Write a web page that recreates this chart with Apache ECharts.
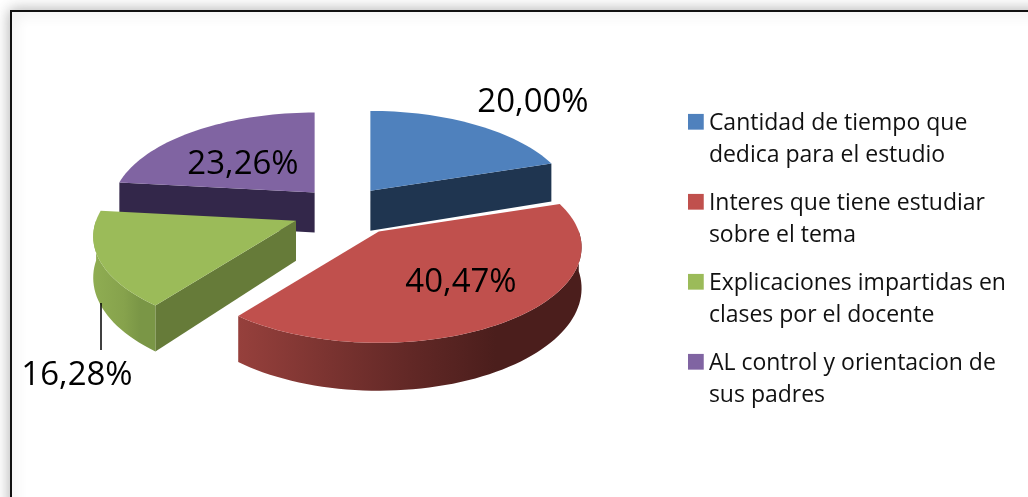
<!DOCTYPE html>
<html>
<head>
<meta charset="utf-8">
<style>
html, body { margin: 0; padding: 0; background: #fff; }
#chart { width: 1028px; height: 497px; }
</style>
<script src="https://cdn.jsdelivr.net/npm/echarts@6/dist/echarts.min.js"></script>
</head>
<body>
<div id="chart"></div>
<script>
const categories = [
    'Cantidad de tiempo que\ndedica para el estudio',
    'Interes que tiene estudiar\nsobre el tema',
    'Explicaciones impartidas en\nclases por el docente',
    'AL control y orientacion de\nsus padres'
]
const values = [20.00, 40.47, 16.28, 23.26]

const colors = ['#4F81BD', '#C0504D', '#9BBB59', '#8064A2']
// cut faces of each slice
const wallColors = ['#1F3550', '#7a2f2c', '#667B39', '#33274A']
// outer rim, left to right
const rimColors = [
    ['#3b6290', '#2c4a70', '#1F3550'],
    ['#96403c', '#622826', '#4b1e1c'],
    ['#8fad52', '#86a24c', '#7a9646'],
    ['#6d5590', '#5a4678', '#4a3a66']
]
// label centres
const labelPos = [[533, 103], [461, 283], [77, 376], [243, 165]]
// small sideways correction per slice
const sliceNudge = [-4, 5, -3, 3]
// painted back to front
const drawOrder = [3, 0, 2, 1]

const chart = echarts.init(document.getElementById('chart'))

// pie projection
const cx = 345, cy = 211
const R = 200, RA = 93, K = 0.165, DEPTH = 40
const EX = 50, EY = 25

function total() {
    return values.reduce((a, b) => a + b, 0)
}

function sliceAngles(idx) {
    let sum = 0
    for (let i = 0; i < idx; i++) sum += values[i]
    const t = total()
    return [sum / t * Math.PI * 2, (sum + values[idx]) / t * Math.PI * 2]
}

function project(ax, ay, ang, r, down) {
    const u = Math.sin(ang) * r
    const v = -Math.cos(ang) * r
    const s = 1 / (1 - K * v)
    return [ax + R * u * s, ay + RA * v * s + (down ? DEPTH * s : 0)]
}

// a cut face shows only when the slice top lies above its edge
function wallVisible(apex, rim, inner) {
    const ex = rim[0] - apex[0], ey = rim[1] - apex[1]
    const ix = inner[0] - apex[0], iy = inner[1] - apex[1]
    if (Math.abs(ex) < 1) return false
    return (ex * iy - ey * ix) * ex < 0
}

function renderSlice(idx) {
    const [a0, a1] = sliceAngles(idx)
    const mid = (a0 + a1) / 2
    const ax = cx + EX * Math.sin(mid) + sliceNudge[idx]
    const ay = cy - EY * Math.cos(mid)
    const steps = Math.max(6, Math.round((a1 - a0) / (Math.PI / 90)))

    const rimTop = [], frontTop = [], frontBottom = []
    for (let i = 0; i <= steps; i++) {
        const a = a0 + (a1 - a0) * i / steps
        rimTop.push(project(ax, ay, a, 1, false))
        // only the front half of the rim can be seen
        if (Math.cos(a) <= 0.02) {
            frontTop.push(project(ax, ay, a, 1, false))
            frontBottom.push(project(ax, ay, a, 1, true))
        }
    }
    const apexTop = project(ax, ay, 0, 0, false)
    const apexBottom = project(ax, ay, 0, 0, true)
    const inner = project(ax, ay, mid, 0.6, false)

    const children = []
    ;[a0, a1].forEach(function (a) {
        const top = project(ax, ay, a, 1, false)
        if (wallVisible(apexTop, top, inner)) {
            children.push({
                type: 'polygon',
                shape: { points: [apexTop, top, project(ax, ay, a, 1, true), apexBottom] },
                style: { fill: wallColors[idx] }
            })
        }
    })
    if (frontTop.length > 1) {
        const xs = frontTop.map(p => p[0])
        children.push({
            type: 'polygon',
            shape: { points: frontTop.concat(frontBottom.slice().reverse()) },
            style: {
                fill: {
                    type: 'linear',
                    x: Math.min(...xs), y: 0, x2: Math.max(...xs), y2: 0,
                    global: true,
                    colorStops: [
                        { offset: 0, color: rimColors[idx][0] },
                        { offset: 0.5, color: rimColors[idx][1] },
                        { offset: 0.75, color: rimColors[idx][2] },
                        { offset: 1, color: rimColors[idx][2] }
                    ]
                }
            }
        })
    }
    children.push({
        type: 'polygon',
        shape: { points: [apexTop].concat(rimTop) },
        style: { fill: colors[idx] }
    })
    return { type: 'group', children: children }
}

function renderLabel(idx) {
    const children = [{
        type: 'text',
        style: {
            x: labelPos[idx][0],
            y: labelPos[idx][1],
            text: values[idx].toFixed(2).replace('.', ',') + '%',
            fill: '#000',
            font: '33px "Open Sans", sans-serif',
            align: 'center',
            verticalAlign: 'middle'
        }
    }]
    // only the green label sits away from its slice
    if (idx === 2) {
        children.push({
            type: 'line',
            shape: { x1: 101, y1: 303, x2: 101, y2: 350 },
            style: { stroke: '#000', lineWidth: 1.5 }
        })
    }
    return { type: 'group', children: children }
}

const series = categories.map(function (name, i) {
    return {
        name: name,
        type: 'custom',
        coordinateSystem: 'none',
        color: colors[i],
        z: 2 + drawOrder.indexOf(i),
        silent: true,
        data: [values[i]],
        renderItem: function () { return renderSlice(i) }
    }
})
// labels go on top of every slice
series.push({
    type: 'custom',
    coordinateSystem: 'none',
    z: 20,
    silent: true,
    data: values.slice(),
    renderItem: function (params) { return renderLabel(params.dataIndex) }
})

const option = {
    animation: false,
    backgroundColor: '#fff',
    graphic: [{
        type: 'rect',
        z: -1,
        silent: true,
        shape: { x: 11, y: 11, width: 1040, height: 520 },
        style: {
            fill: '#fff',
            stroke: '#111',
            lineWidth: 2,
            shadowBlur: 14,
            shadowColor: 'rgba(0,0,0,0.3)'
        }
    }],
    legend: {
        left: 683,
        top: 103,
        orient: 'vertical',
        data: categories,
        itemWidth: 16,
        itemHeight: 63,
        itemGap: 17,
        selectedMode: false,
        // square beside the first line, the extra points stretch the icon box
        icon: 'path://M0,6H16V22H0Z M0,0L0,0 M0,64L0,64',
        textStyle: {
            fontFamily: '"Open Sans", sans-serif',
            fontSize: 23,
            lineHeight: 31.5,
            color: '#111'
        }
    },
    series: series
}
chart.setOption(option)
</script>
</body>
</html>
